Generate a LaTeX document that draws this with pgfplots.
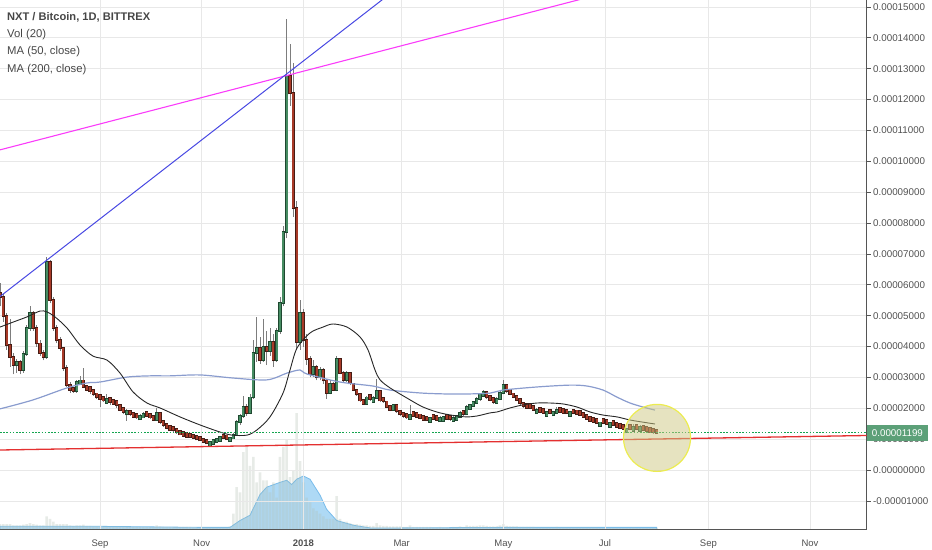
\documentclass[border=0pt]{standalone}
\usepackage{pgfplots}
\pgfplotsset{compat=1.18}
\usepackage{pgfplotstable}
\usepackage{fontspec}
\setmainfont{Liberation Sans}

\definecolor{upc}{RGB}{70,140,98}
\definecolor{upe}{RGB}{30,72,48}
\definecolor{dnc}{RGB}{168,58,40}
\definecolor{dne}{RGB}{70,28,20}
\definecolor{wickc}{RGB}{125,125,125}
\definecolor{gridc}{RGB}{232,232,232}
\definecolor{axisc}{RGB}{85,85,85}
\definecolor{labc}{RGB}{80,80,80}
\definecolor{titc}{RGB}{70,70,70}
\definecolor{mabc}{RGB}{138,156,206}
\definecolor{trendb}{RGB}{72,72,226}
\definecolor{trendm}{RGB}{250,60,250}
\definecolor{trendr}{RGB}{228,48,48}
\definecolor{lastc}{RGB}{20,165,80}
\definecolor{tagc}{RGB}{92,160,120}
\definecolor{volfill}{RGB}{160,210,243}
\definecolor{volline}{RGB}{120,188,235}
\definecolor{volbar}{RGB}{175,190,175}
\definecolor{circf}{RGB}{205,200,130}
\definecolor{circd}{RGB}{236,236,80}

% days since 1 Sep 2017; prices in units of 0.00001 BTC; volume in relative units
\pgfplotstableread{
d o h l c v
-60 5.75 6.06 5.30 5.60 1.0
-58 5.60 5.70 4.80 5.00 1.0
-56 5.00 5.10 3.90 4.05 1.0
-54 4.05 4.90 3.35 3.66 1.0
-52 3.66 3.80 3.10 3.40 0.8
-50 3.40 3.60 3.15 3.50 0.8
-48 3.50 3.55 3.10 3.25 0.8
-46 3.25 3.85 3.15 3.75 0.9
-44 3.75 4.70 3.70 4.60 1.0
-42 4.60 5.30 4.50 5.10 1.2
-40 5.10 5.15 4.50 4.60 1.0
-38 4.60 4.70 4.00 4.10 0.9
-36 4.10 4.20 3.70 3.80 0.8
-34 3.80 3.90 3.55 3.65 0.8
-32 3.65 6.90 3.60 6.75 2.5
-30 6.75 6.80 5.40 5.50 2.0
-28 5.50 5.60 4.50 4.60 1.5
-26 4.60 4.70 4.10 4.20 1.0
-24 4.20 4.30 3.85 3.95 1.0
-22 3.95 4.00 3.20 3.30 1.0
-20 3.30 3.40 2.70 2.75 1.0
-18 2.75 2.85 2.50 2.60 0.8
-16 2.67 2.70 2.50 2.55 0.7
-14 2.55 2.90 2.50 2.85 0.8
-12 2.78 3.05 2.75 2.90 0.8
-10 2.90 3.30 2.65 2.70 0.9
-8 2.73 2.75 2.55 2.60 0.7
-6 2.68 2.70 2.45 2.55 0.7
-4 2.58 2.60 2.40 2.45 0.6
-2 2.48 2.50 2.30 2.35 0.6
0 2.43 2.45 2.05 2.30 0.6
2 2.38 2.40 2.20 2.25 0.6
4 2.18 2.45 2.15 2.30 0.6
6 2.32 2.34 2.10 2.20 0.6
8 2.28 2.30 2.10 2.15 0.6
10 2.23 2.25 2.00 2.10 0.6
12 2.10 2.12 1.90 1.95 0.6
14 2.00 2.02 1.80 1.88 0.6
16 1.80 1.98 1.60 1.92 0.6
18 1.92 1.95 1.75 1.80 0.6
20 1.84 1.86 1.68 1.72 0.5
22 1.82 1.84 1.65 1.70 0.5
24 1.64 1.80 1.62 1.76 0.5
26 1.70 1.88 1.68 1.82 0.5
28 1.88 1.90 1.72 1.76 0.5
30 1.82 1.84 1.66 1.70 0.5
32 1.74 1.76 1.58 1.62 0.5
34 1.62 2.00 1.60 1.85 0.8
36 1.85 1.87 1.50 1.55 0.6
38 1.58 1.60 1.40 1.45 0.5
40 1.48 1.50 1.32 1.36 0.5
42 1.42 1.44 1.26 1.30 0.5
44 1.40 1.42 1.24 1.28 0.5
46 1.34 1.36 1.18 1.22 0.5
48 1.27 1.29 1.12 1.15 0.5
50 1.22 1.24 1.06 1.10 0.5
52 1.20 1.22 1.04 1.08 0.5
54 1.18 1.20 1.03 1.06 0.5
56 1.15 1.17 1.00 1.03 0.4
58 1.11 1.13 0.96 0.99 0.4
60 1.08 1.10 0.93 0.96 0.4
62 1.02 1.04 0.86 0.90 0.4
64 0.98 1.00 0.83 0.86 0.4
66 0.79 0.93 0.77 0.91 0.4
68 0.85 0.99 0.83 0.97 0.4
70 0.90 1.05 0.88 1.02 0.4
72 0.95 1.10 0.93 1.07 0.4
74 1.15 1.17 1.00 1.03 0.4
76 1.12 1.14 0.97 1.00 0.4
78 0.93 1.08 0.91 1.05 0.6
80 1.02 1.20 1.00 1.15 3.0
82 1.15 1.62 1.12 1.55 8.0
84 1.55 1.82 1.45 1.75 7.0
86 1.75 2.40 1.70 2.05 14.6
88 2.05 2.15 1.75 1.85 15.6
90 1.85 2.45 1.80 2.35 12.0
92 2.35 4.20 2.30 3.80 13.7
94 3.80 4.95 3.50 3.95 8.9
96 3.95 4.30 3.45 3.55 10.8
98 3.55 4.90 3.50 4.00 9.3
100 4.00 4.50 3.40 3.85 9.3
102 3.85 4.60 3.70 4.15 7.0
104 4.15 4.40 3.35 3.55 8.9
106 3.55 4.60 3.50 4.50 6.0
108 4.50 5.60 4.40 5.40 13.7
110 5.40 7.90 5.30 7.70 15.6
112 7.70 14.60 7.50 12.75 17.0
114 12.75 13.80 11.80 12.20 9.9
116 12.20 13.20 8.20 8.50 11.2
118 8.50 8.70 3.90 4.15 22.0
120 4.15 5.50 3.90 5.10 12.9
122 5.10 5.20 4.00 4.20 8.9
124 4.20 4.40 3.40 3.60 6.0
126 3.60 3.70 3.00 3.10 5.1
128 3.10 3.55 3.00 3.35 4.0
130 3.35 3.40 2.90 3.00 3.5
132 3.00 3.35 2.90 3.25 3.0
134 3.25 3.30 2.80 2.90 2.5
136 2.90 2.95 2.30 2.50 2.0
138 2.50 2.90 2.45 2.80 2.0
140 2.80 2.85 2.55 2.60 2.0
142 2.60 3.70 2.55 3.60 6.3
144 3.60 3.62 3.10 3.15 2.0
146 3.15 3.20 2.85 2.90 1.5
148 2.90 3.20 2.85 3.15 1.5
150 3.15 3.17 2.75 2.80 1.2
152 2.80 2.82 2.55 2.60 1.0
154 2.60 2.62 2.40 2.45 1.0
156 2.45 2.48 2.20 2.25 0.9
158 2.27 2.30 2.10 2.15 0.8
160 2.15 2.40 2.12 2.35 0.8
162 2.42 2.44 2.25 2.30 0.7
164 2.20 2.40 2.18 2.32 0.7
166 2.32 2.95 2.30 2.55 1.2
168 2.55 2.58 2.20 2.25 0.8
170 2.34 2.36 2.18 2.22 0.7
172 2.22 2.24 2.00 2.05 0.7
174 2.07 2.09 1.90 1.95 0.6
176 1.95 2.15 1.92 2.10 0.6
178 2.10 2.12 1.86 1.90 0.6
180 1.92 1.94 1.76 1.80 0.6
182 1.86 1.88 1.70 1.74 0.5
184 1.82 1.84 1.66 1.70 0.5
186 1.66 2.10 1.64 1.78 0.8
188 1.88 1.90 1.72 1.76 0.5
190 1.84 1.86 1.68 1.72 0.5
192 1.80 1.82 1.64 1.68 0.5
194 1.75 1.77 1.60 1.63 0.5
196 1.73 1.75 1.58 1.61 0.5
198 1.56 1.72 1.54 1.68 0.5
200 1.77 1.79 1.62 1.65 0.4
202 1.74 1.76 1.58 1.62 0.4
204 1.58 1.74 1.56 1.70 0.5
206 1.59 1.74 1.57 1.71 0.4
208 1.78 1.80 1.62 1.66 0.4
210 1.76 1.78 1.60 1.64 0.4
212 1.58 1.74 1.56 1.70 0.5
214 1.63 1.78 1.61 1.75 0.5
216 1.73 1.90 1.71 1.85 0.6
218 1.92 1.94 1.76 1.80 0.5
220 1.80 2.10 1.78 2.05 0.8
222 1.98 2.15 1.96 2.10 0.7
224 2.08 2.25 2.06 2.20 0.7
226 2.18 2.35 2.15 2.30 0.7
228 2.30 2.50 2.25 2.45 0.8
230 2.40 2.60 2.38 2.52 0.8
232 2.52 2.55 2.30 2.35 0.7
234 2.39 2.41 2.22 2.27 0.6
236 2.32 2.34 2.15 2.20 0.6
238 2.18 2.35 2.16 2.30 0.6
240 2.30 2.55 2.28 2.50 0.8
242 2.50 2.90 2.45 2.75 1.0
244 2.75 2.78 2.50 2.55 0.7
246 2.59 2.61 2.42 2.47 0.6
248 2.48 2.50 2.32 2.36 0.6
250 2.39 2.41 2.22 2.27 0.6
252 2.29 2.31 2.12 2.17 0.5
254 2.18 2.20 2.02 2.06 0.5
256 2.14 2.16 1.98 2.02 0.5
258 2.13 2.15 1.97 2.01 0.5
260 2.07 2.09 1.92 1.95 0.5
262 1.84 2.00 1.82 1.96 0.4
264 2.00 2.02 1.84 1.88 0.4
266 1.97 1.99 1.82 1.85 0.4
268 1.75 1.90 1.73 1.87 0.4
270 1.96 1.98 1.80 1.84 0.4
272 1.77 1.92 1.75 1.89 0.4
274 1.84 2.05 1.82 1.96 0.5
276 2.00 2.02 1.85 1.88 0.4
278 1.97 1.99 1.82 1.85 0.4
280 1.96 1.98 1.81 1.84 0.4
282 1.75 1.90 1.73 1.87 0.4
284 1.96 1.98 1.80 1.84 0.4
286 1.93 1.95 1.78 1.81 0.4
288 1.90 1.92 1.75 1.78 0.4
290 1.84 1.86 1.69 1.72 0.4
292 1.77 1.79 1.62 1.65 0.4
294 1.72 1.74 1.57 1.60 0.4
296 1.68 1.70 1.53 1.56 0.4
298 1.64 1.66 1.49 1.52 0.4
300 1.42 1.56 1.40 1.54 0.3
302 1.64 1.66 1.49 1.52 0.3
304 1.62 1.64 1.47 1.50 0.3
306 1.40 1.55 1.38 1.52 0.3
308 1.58 1.60 1.43 1.46 0.3
310 1.52 1.54 1.37 1.40 0.3
312 1.48 1.50 1.33 1.36 0.3
314 1.45 1.47 1.30 1.33 0.3
316 1.22 1.36 1.20 1.34 0.3
318 1.45 1.47 1.31 1.33 0.3
320 1.26 1.50 1.24 1.38 0.4
322 1.46 1.48 1.32 1.34 0.3
324 1.26 1.45 1.24 1.38 0.3
326 1.42 1.44 1.27 1.30 0.3
328 1.39 1.41 1.24 1.27 0.3
330 1.36 1.38 1.21 1.24 0.3
332 1.34 1.36 1.18 1.22 0.3
334 1.31 1.33 1.17 1.199 0.3
}\candles

% MA (50, close)
\pgfplotstableread{
d ma
-60 4.63
-52.2 4.79
-43.8 4.96
-36 5.15
-31.8 5.12
-27 4.96
-19.8 4.60
-12 4.05
-4.2 3.69
4.2 3.56
12 3.14
19.8 2.53
28.2 2.17
36 2.01
48 1.72
60 1.46
72 1.23
79.2 1.13
88.2 1.13
94.2 1.30
102 1.72
109.8 2.49
114 3.24
118.2 3.95
126 4.44
133.8 4.63
139.8 4.73
148.2 4.63
156 4.31
160.8 3.89
165 3.24
168 2.92
174 2.66
184.2 2.33
193.8 2.04
204 1.85
214.2 1.75
220.2 1.72
226.2 1.75
234 1.85
238.2 1.88
246 2.01
253.8 2.11
262.2 2.17
270 2.17
277.8 2.14
286.2 2.04
294 1.88
301.8 1.78
310.2 1.72
318 1.62
325.8 1.55
333 1.49
}\mafifty

% MA (200, close)
\pgfplotstableread{
d ma
-60 1.98
-40.2 2.27
-19.8 2.66
-7.8 2.82
0 2.85
16.2 3.01
30 3.05
42 3.05
60 3.08
79.8 2.98
100.2 2.92
112.2 3.14
120 3.24
124.2 3.11
144 2.85
163.8 2.72
174 2.59
193.8 2.49
214.2 2.46
234 2.49
241.8 2.59
262.2 2.69
282 2.75
292.2 2.72
301.8 2.59
310.2 2.36
318 2.17
325.8 2.04
333 1.94
}\matwohundred

% Vol (20) moving average
\pgfplotstableread{
d v
-60 0.6
0 0.6
60 0.4
78 0.4
84 1.7
90 2.7
96 6.6
100 8.0
108 8.9
112 9.3
115 8.5
118 9.5
122 10.1
126 9.5
132 6.5
136 3.8
142 1.7
152 0.8
162 0.3
180 0.3
240 0.4
334 0.4
}\volma

\begin{document}
\begin{tikzpicture}
\useasboundingbox (0bp,0bp) rectangle (932bp,550bp);

% volume pane
\begin{axis}[
  at={(0bp,20.5bp)}, anchor=south west, scale only axis,
  width=866.7bp, height=529.5bp,
  xmin=-60, xmax=460, ymin=0, ymax=100,
  hide axis,
  ]
  \addplot[fill=volfill, draw=volline, fill opacity=0.85, line width=0.8bp]
    table[x=d, y=v] {\volma} \closedcycle;
  \addplot[ybar, bar width=2.6bp, bar shift=0pt, fill=volbar, draw=none, fill opacity=0.3]
    table[x=d, y=v] {\candles};
\end{axis}

% price pane
\begin{axis}[
  at={(0bp,20.5bp)}, anchor=south west, scale only axis,
  width=866.7bp, height=529.5bp,
  xmin=-60, xmax=460, ymin=-1.927, ymax=15.225,
  axis x line*=bottom, axis y line*=right,
  axis line style={draw=axisc, line width=0.9bp},
  xtick={0,61,122,181,242,303,365,426},
  xticklabels={Sep,Nov,\textbf{2018},Mar,May,Jul,Sep,Nov},
  ytick={-1,0,...,15},
  yticklabels={-0.00001000,0.00000000,0.00001000,0.00002000,0.00003000,0.00004000,0.00005000,0.00006000,0.00007000,0.00008000,0.00009000,0.00010000,0.00011000,0.00012000,0.00013000,0.00014000,0.00015000},
  grid=major,
  major grid style={draw=gridc, line width=0.7bp},
  tick align=outside,
  major tick length=4bp,
  xtick style={draw=none},
  ytick style={draw=axisc, line width=0.7bp},
  xticklabel style={font=\fontsize{9.5bp}{11bp}\selectfont, text=labc, yshift=-3bp},
  yticklabel style={font=\fontsize{9.8bp}{11bp}\selectfont, text=labc, anchor=west, xshift=-1bp},
  candle/.style={draw=none, mark=none, forget plot},
  ]
  % wicks
  \addplot[candle, error bars/.cd, y dir=plus, y explicit, error mark=none,
    error bar style={line width=0.9bp, draw=wickc}]
    table[x=d, y=l, y error plus expr=\thisrow{h}-\thisrow{l}] {\candles};
  % rising bodies: dark edge, then fill
  \addplot[candle, x filter/.expression={\thisrow{c}<\thisrow{o} ? nan : x},
    error bars/.cd, y dir=plus, y explicit, error mark=none,
    error bar style={line width=3.3bp, draw=upe}]
    table[x=d, y expr=\thisrow{o}-0.03, y error plus expr=\thisrow{c}-\thisrow{o}+0.06] {\candles};
  \addplot[candle, x filter/.expression={\thisrow{c}<\thisrow{o} ? nan : x},
    error bars/.cd, y dir=plus, y explicit, error mark=none,
    error bar style={line width=1.9bp, draw=upc}]
    table[x=d, y=o, y error plus expr=\thisrow{c}-\thisrow{o}] {\candles};
  % falling bodies: dark edge, then fill
  \addplot[candle, x filter/.expression={\thisrow{c}<\thisrow{o} ? x : nan},
    error bars/.cd, y dir=plus, y explicit, error mark=none,
    error bar style={line width=3.3bp, draw=dne}]
    table[x=d, y expr=\thisrow{c}-0.03, y error plus expr=\thisrow{o}-\thisrow{c}+0.06] {\candles};
  \addplot[candle, x filter/.expression={\thisrow{c}<\thisrow{o} ? x : nan},
    error bars/.cd, y dir=plus, y explicit, error mark=none,
    error bar style={line width=1.9bp, draw=dnc}]
    table[x=d, y=c, y error plus expr=\thisrow{o}-\thisrow{c}] {\candles};

  % moving averages
  \addplot[mabc, line width=1.2bp, smooth] table[x=d, y=ma] {\matwohundred};
  \addplot[black!85, line width=0.9bp, smooth] table[x=d, y=ma] {\mafifty};

  % trend lines
  \addplot[trendm, line width=1.1bp] coordinates {(-60,10.37) (300,15.41)};
  \addplot[trendb, line width=1bp] coordinates {(-60,5.62) (180,15.68)};
  \addplot[trendr, line width=1.3bp] coordinates {(-60,0.648) (460,1.118)};

  % last price
  \addplot[lastc, line width=1bp, dash pattern=on 1.6bp off 1.6bp]
    coordinates {(-60,1.199) (460,1.199)};

  % highlight
  \addplot[only marks, mark=*, mark size=33.5bp,
    mark options={fill=circf, fill opacity=0.5, draw=circd, line width=1.2bp}]
    coordinates {(334.2,1.04)};
\end{axis}

\node[anchor=base west, inner sep=0, text=titc, font=\bfseries\fontsize{11.1bp}{13bp}\selectfont]
  at (7bp,529.3bp) {NXT / Bitcoin, 1D, BITTREX};
\node[anchor=base west, inner sep=0, text=titc, font=\fontsize{11.3bp}{13bp}\selectfont]
  at (7bp,512.3bp) {Vol (20)};
\node[anchor=base west, inner sep=0, text=titc, font=\fontsize{11.3bp}{13bp}\selectfont]
  at (7bp,495bp) {MA (50, close)};
\node[anchor=base west, inner sep=0, text=titc, font=\fontsize{11.3bp}{13bp}\selectfont]
  at (7bp,477.7bp) {MA (200, close)};

\node[anchor=west, fill=tagc, text=white, inner sep=0, minimum width=61bp, minimum height=16bp,
  font=\fontsize{9.8bp}{11bp}\selectfont]
  at (866.7bp,116.8bp) {0.00001199};
\end{tikzpicture}
\end{document}
